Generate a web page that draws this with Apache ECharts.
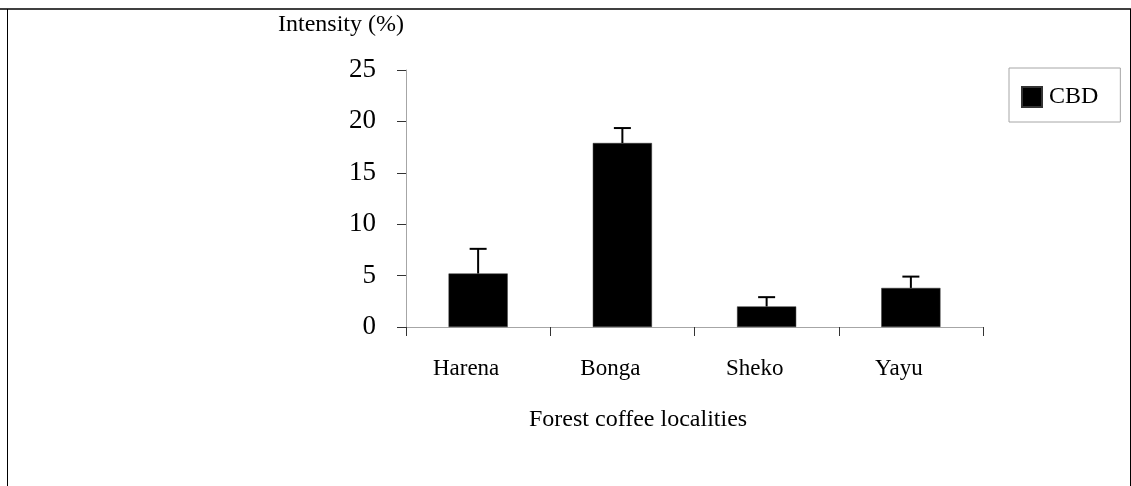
<!DOCTYPE html>
<html>
<head>
<meta charset="utf-8">
<style>
  html, body { margin: 0; padding: 0; background: #fff; }
  #chart { width: 1131px; height: 486px; }
</style>
<script src="https://cdn.jsdelivr.net/npm/echarts@6/dist/echarts.min.js"></script>
</head>
<body>
<div id="chart"></div>
<script>
var categories = ['Harena', 'Bonga', 'Sheko', 'Yayu'];
var cbdValues = [5.2, 17.9, 2.0, 3.8];
var cbdErrors = [2.5, 1.55, 1.0, 1.2];
var yTicks = [0, 5, 10, 15, 20, 25];

var FONT = '"Liberation Serif", "Times New Roman", serif';
var chart = echarts.init(document.getElementById('chart'));

var errorData = cbdValues.map(function (v, i) { return [i, v, cbdErrors[i]]; });

var option = {
  animation: false,
  backgroundColor: '#ffffff',
  grid: { left: 406, right: 148, top: 70, bottom: 159, containLabel: false },
  title: {
    text: 'Forest coffee localities',
    left: 529,
    top: 408,
    textStyle: { fontFamily: FONT, fontSize: 24, fontWeight: 'normal', color: '#000' },
    padding: 0
  },
  legend: {
    data: ['CBD'],
    left: 1009,
    top: 68,
    orient: 'vertical',
    padding: [17, 22, 13, 12],
    borderColor: '#a6a6a6',
    borderWidth: 1,
    itemWidth: 20,
    itemHeight: 20,
    icon: 'rect',
    textStyle: { fontFamily: FONT, fontSize: 24, color: '#000', padding: [-8, 0, 0, 2] }
  },
  xAxis: {
    type: 'category',
    data: categories,
    boundaryGap: true,
    axisLine: { lineStyle: { color: '#a6a6a6', width: 1 } },
    axisTick: { show: true, length: 9, lineStyle: { color: '#333', width: 1 }, alignWithLabel: false },
    axisLabel: { fontFamily: FONT, fontSize: 23, color: '#000', margin: 30, padding: [0, 24, 0, 0] },
    splitLine: { show: false }
  },
  yAxis: {
    type: 'value',
    min: yTicks[0],
    max: yTicks[yTicks.length - 1],
    interval: 5,
    name: 'Intensity (%)',
    nameLocation: 'end',
    nameGap: 45,
    nameTextStyle: { fontFamily: FONT, fontSize: 24, color: '#000', align: 'right', verticalAlign: 'middle', padding: [0, 2, 0, 0] },
    axisLine: { show: true, lineStyle: { color: '#a6a6a6', width: 1 } },
    axisTick: { show: true, length: 9, lineStyle: { color: '#333', width: 1 } },
    axisLabel: { fontFamily: FONT, fontSize: 27, color: '#000', margin: 30 },
    splitLine: { show: false }
  },
  series: [
    {
      name: 'CBD',
      type: 'bar',
      data: cbdValues,
      barWidth: '41%',
      itemStyle: { color: '#000', borderColor: '#333', borderWidth: 0.5 }
    },
    {
      name: 'err',
      type: 'custom',
      data: errorData,
      z: 10,
      renderItem: function (params, api) {
        var idx = api.value(0);
        var v = api.value(1);
        var e = api.value(2);
        var base = api.coord([idx, v]);
        var top = api.coord([idx, v + e]);
        var half = 8.5;
        return {
          type: 'group',
          children: [
            { type: 'line', shape: { x1: base[0], y1: base[1], x2: top[0], y2: top[1] + 1 },
              style: { stroke: '#000', lineWidth: 2 } },
            { type: 'line', shape: { x1: top[0] - half, y1: top[1] + 1, x2: top[0] + half, y2: top[1] + 1 },
              style: { stroke: '#000', lineWidth: 2 } }
          ]
        };
      }
    }
  ],
  graphic: [
    { type: 'line', shape: { x1: 0, y1: 9, x2: 1131, y2: 9 }, style: { stroke: '#000', lineWidth: 1.5 } },
    { type: 'line', shape: { x1: 7.5, y1: 9, x2: 7.5, y2: 486 }, style: { stroke: '#000', lineWidth: 1 } },
    { type: 'line', shape: { x1: 1130.5, y1: 9, x2: 1130.5, y2: 486 }, style: { stroke: '#000', lineWidth: 1 } }
  ]
};
chart.setOption(option);
</script>
</body>
</html>
